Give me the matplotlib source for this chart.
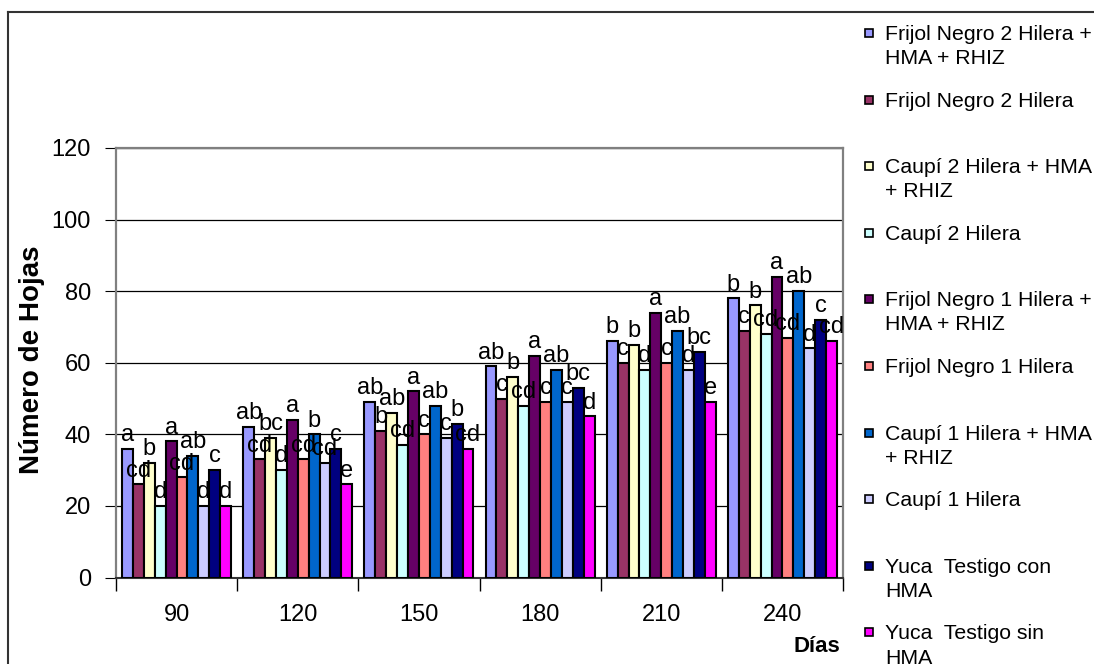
import numpy as np
import matplotlib
matplotlib.use('Agg')
import matplotlib.pyplot as plt
from matplotlib.patches import Rectangle
from matplotlib.lines import Line2D

plt.rcParams['font.family'] = ['Liberation Sans', 'DejaVu Sans']

dias = ['90', '120', '150', '180', '210', '240']

# numero de hojas por tratamiento (una lista por serie, un valor por fecha)
fn2_hma = [36, 42, 49, 59, 66, 78]
fn2 = [26, 33, 41, 50, 60, 69]
cp2_hma = [32, 39, 46, 56, 65, 76]
cp2 = [20, 30, 37, 48, 58, 68]
fn1_hma = [38, 44, 52, 62, 74, 84]
fn1 = [28, 33, 40, 49, 60, 67]
cp1_hma = [34, 40, 48, 58, 69, 80]
cp1 = [20, 32, 39, 49, 58, 64]
yuca_hma = [30, 36, 43, 53, 63, 72]
yuca = [20, 26, 36, 45, 49, 66]

# letras de significacion
let_fn2_hma = ['a', 'ab', 'ab', 'ab', 'b', 'b']
let_fn2 = ['cd', 'cd', 'b', 'c', 'c', 'c']
let_cp2_hma = ['b', 'bc', 'ab', 'b', 'b', 'b']
let_cp2 = ['d', 'd', 'cd', 'cd', 'd', 'cd']
let_fn1_hma = ['a', 'a', 'a', 'a', 'a', 'a']
let_fn1 = ['cd', 'cd', 'c', 'c', 'c', 'cd']
let_cp1_hma = ['ab', 'b', 'ab', 'ab', 'ab', 'ab']
let_cp1 = ['d', 'cd', 'c', 'c', 'd', 'd']
let_yuca_hma = ['c', 'c', 'b', 'bc', 'bc', 'c']
let_yuca = ['d', 'e', 'cd', 'd', 'e', 'cd']

nombres = ['Frijol Negro 2 Hilera +\nHMA + RHIZ', 'Frijol Negro 2 Hilera',
           'Caupí 2 Hilera + HMA\n+ RHIZ', 'Caupí 2 Hilera',
           'Frijol Negro 1 Hilera +\nHMA + RHIZ', 'Frijol Negro 1 Hilera',
           'Caupí 1 Hilera + HMA\n+ RHIZ', 'Caupí 1 Hilera',
           'Yuca  Testigo con\nHMA', 'Yuca  Testigo sin\nHMA']

series = [fn2_hma, fn2, cp2_hma, cp2, fn1_hma, fn1, cp1_hma, cp1, yuca_hma, yuca]
letras = [let_fn2_hma, let_fn2, let_cp2_hma, let_cp2, let_fn1_hma, let_fn1,
          let_cp1_hma, let_cp1, let_yuca_hma, let_yuca]
colores = ['#9999FF', '#993366', '#FFFFCC', '#CCFFFF', '#660066',
           '#FF8080', '#0066CC', '#CCCCFF', '#000080', '#FF00FF']

W, H = 1094, 664
fig = plt.figure(figsize=(W / 100, H / 100), dpi=100)
ax = fig.add_axes([116 / W, 1 - 577.5 / H, (843 - 116) / W, (577.5 - 148) / H])

x = np.arange(len(dias))
w = 0.09
for j, (vals, lets, col) in enumerate(zip(series, letras, colores)):
    bars = ax.bar(x + (j - 4.5) * w, vals, width=w, color=col,
                  edgecolor='black', linewidth=1.5, zorder=3)
    ax.bar_label(bars, labels=lets, padding=2, fontsize=17, zorder=4)

ax.set_xlim(-0.5, 5.5)
ax.set_ylim(0, 120)
ax.set_yticks(np.arange(0, 121, 20))
ax.tick_params(axis='y', labelsize=17, length=8, direction='out', pad=10)
ax.set_xticks(x)
ax.set_xticklabels(dias)
ax.tick_params(axis='x', which='major', labelsize=17, length=0, pad=19)
ax.set_xticks(np.arange(-0.5, 6, 1), minor=True)
ax.tick_params(axis='x', which='minor', length=9, direction='out', width=1)
ax.yaxis.grid(True, color='black', linewidth=0.9, zorder=0)

for s in ['left', 'top', 'right']:
    ax.spines[s].set_color('#808080')
    ax.spines[s].set_linewidth(1.6)
ax.spines['bottom'].set_color('#333333')
ax.spines['bottom'].set_linewidth(1.5)

fig.text(32 / W, 1 - 360 / H, 'Número de Hojas', rotation=90, fontsize=20,
         fontweight='bold', ha='center', va='center')
fig.text(817 / W, 1 - 647 / H, 'Días', fontsize=16, fontweight='bold',
         ha='center', va='center')

# leyenda dibujada a mano, marcador alineado con la primera linea
for i, (nombre, col) in enumerate(zip(nombres, colores)):
    yc = 33 + i * 66.6
    fig.add_artist(Rectangle((865 / W, 1 - (yc + 4) / H), 8 / W, 8 / H,
                             transform=fig.transFigure, facecolor=col,
                             edgecolor='black', linewidth=1.2))
    fig.text(885 / W, 1 - (yc - 8) / H, nombre, fontsize=15.3,
             va='top', ha='left', linespacing=1.34)

# marco exterior del grafico
fig.add_artist(Line2D([8 / W, 1], [1 - 12 / H, 1 - 12 / H],
                      transform=fig.transFigure, color='#333333', linewidth=1.5))
fig.add_artist(Line2D([8 / W, 8 / W], [1 - 12 / H, 0],
                      transform=fig.transFigure, color='#333333', linewidth=1.5))

fig.savefig('out.png', dpi=100)
